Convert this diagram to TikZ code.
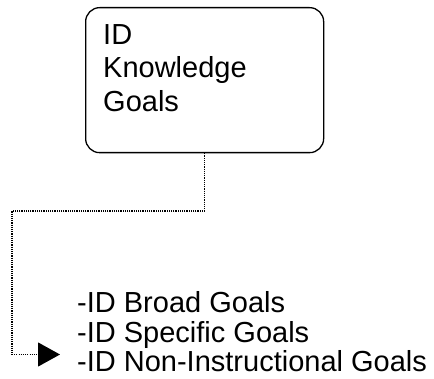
\documentclass[tikz,border=0pt]{standalone}
\usepackage{fontspec}
\setmainfont{Liberation Sans}
\usetikzlibrary{arrows.meta}
\tikzset{
  goalbox/.style={draw, rounded corners=14pt, line width=1.3pt, minimum width=238pt, minimum height=145pt, anchor=north west, inner sep=0pt},
  txt/.style={align=left, inner sep=0pt, anchor=north west, font=\fontsize{29}{33.3}\selectfont},
  link/.style={line width=1.1pt, dash pattern=on 1.1pt off 1.1pt, -{Triangle[length=22pt,width=24pt]}}
}
\begin{document}
\begin{tikzpicture}[x=1pt,y=-1pt]
\useasboundingbox (0,0) rectangle (434,379);
\node[goalbox] (box) at (85,7) {};
\node[txt] (boxtext) at (103,24.5) {ID\\Knowledge\\Goals};
\node[txt, font=\fontsize{29}{29.3}\selectfont] (list) at (77,291.5) {-ID Broad Goals\\-ID Specific Goals\\-ID Non-Instructional Goals};
\coordinate (tip) at (60,354.5);
\draw[link] (box.south) -- (box.south |- 0,211) -- (12,211) |- (tip);
\end{tikzpicture}
\end{document}
